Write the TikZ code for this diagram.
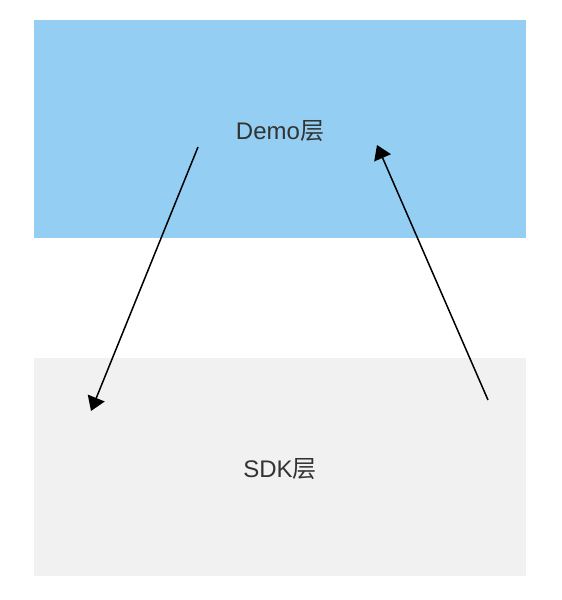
\documentclass[tikz,border=0pt]{standalone}
\usepackage{fontspec}
\setmainfont{Liberation Sans}
\newfontfamily\cjk{Noto Sans CJK SC}
\usetikzlibrary{arrows.meta}
\definecolor{demoblue}{HTML}{94CFF3}
\definecolor{sdkgray}{HTML}{F1F1F1}
\definecolor{txtgray}{HTML}{333333}

\begin{document}
\begin{tikzpicture}[x=1pt, y=-1pt, >={Triangle[length=14pt, width=18pt]}]

% Background
\useasboundingbox (0,0) rectangle (562,600);
\fill[white] (0,0) rectangle (562,600);

% Layers
\node[fill=demoblue, minimum width=492pt, minimum height=218pt, inner sep=0pt] (demo) at (280,129) {};
\node[fill=sdkgray, minimum width=492pt, minimum height=218pt, inner sep=0pt] (sdk) at (280,467) {};

% Layer labels
\node[text=txtgray, font=\fontsize{24pt}{28pt}\selectfont] (demolabel) at (280,131) {Demo{\cjk 层}};
\node[text=txtgray, font=\fontsize{24pt}{28pt}\selectfont] (sdklabel) at (280,469) {SDK{\cjk 层}};

% Arrow end points
\coordinate (callstart) at (198,147);
\coordinate (callend) at (91,411);
\coordinate (backstart) at (488,400);
\coordinate (backend) at (377,145);

% Demo -> SDK and SDK -> Demo
\draw[black, line width=1.5pt, ->] (callstart) -- (callend);
\draw[black, line width=1.5pt, ->] (backstart) -- (backend);

\end{tikzpicture}
\end{document}
